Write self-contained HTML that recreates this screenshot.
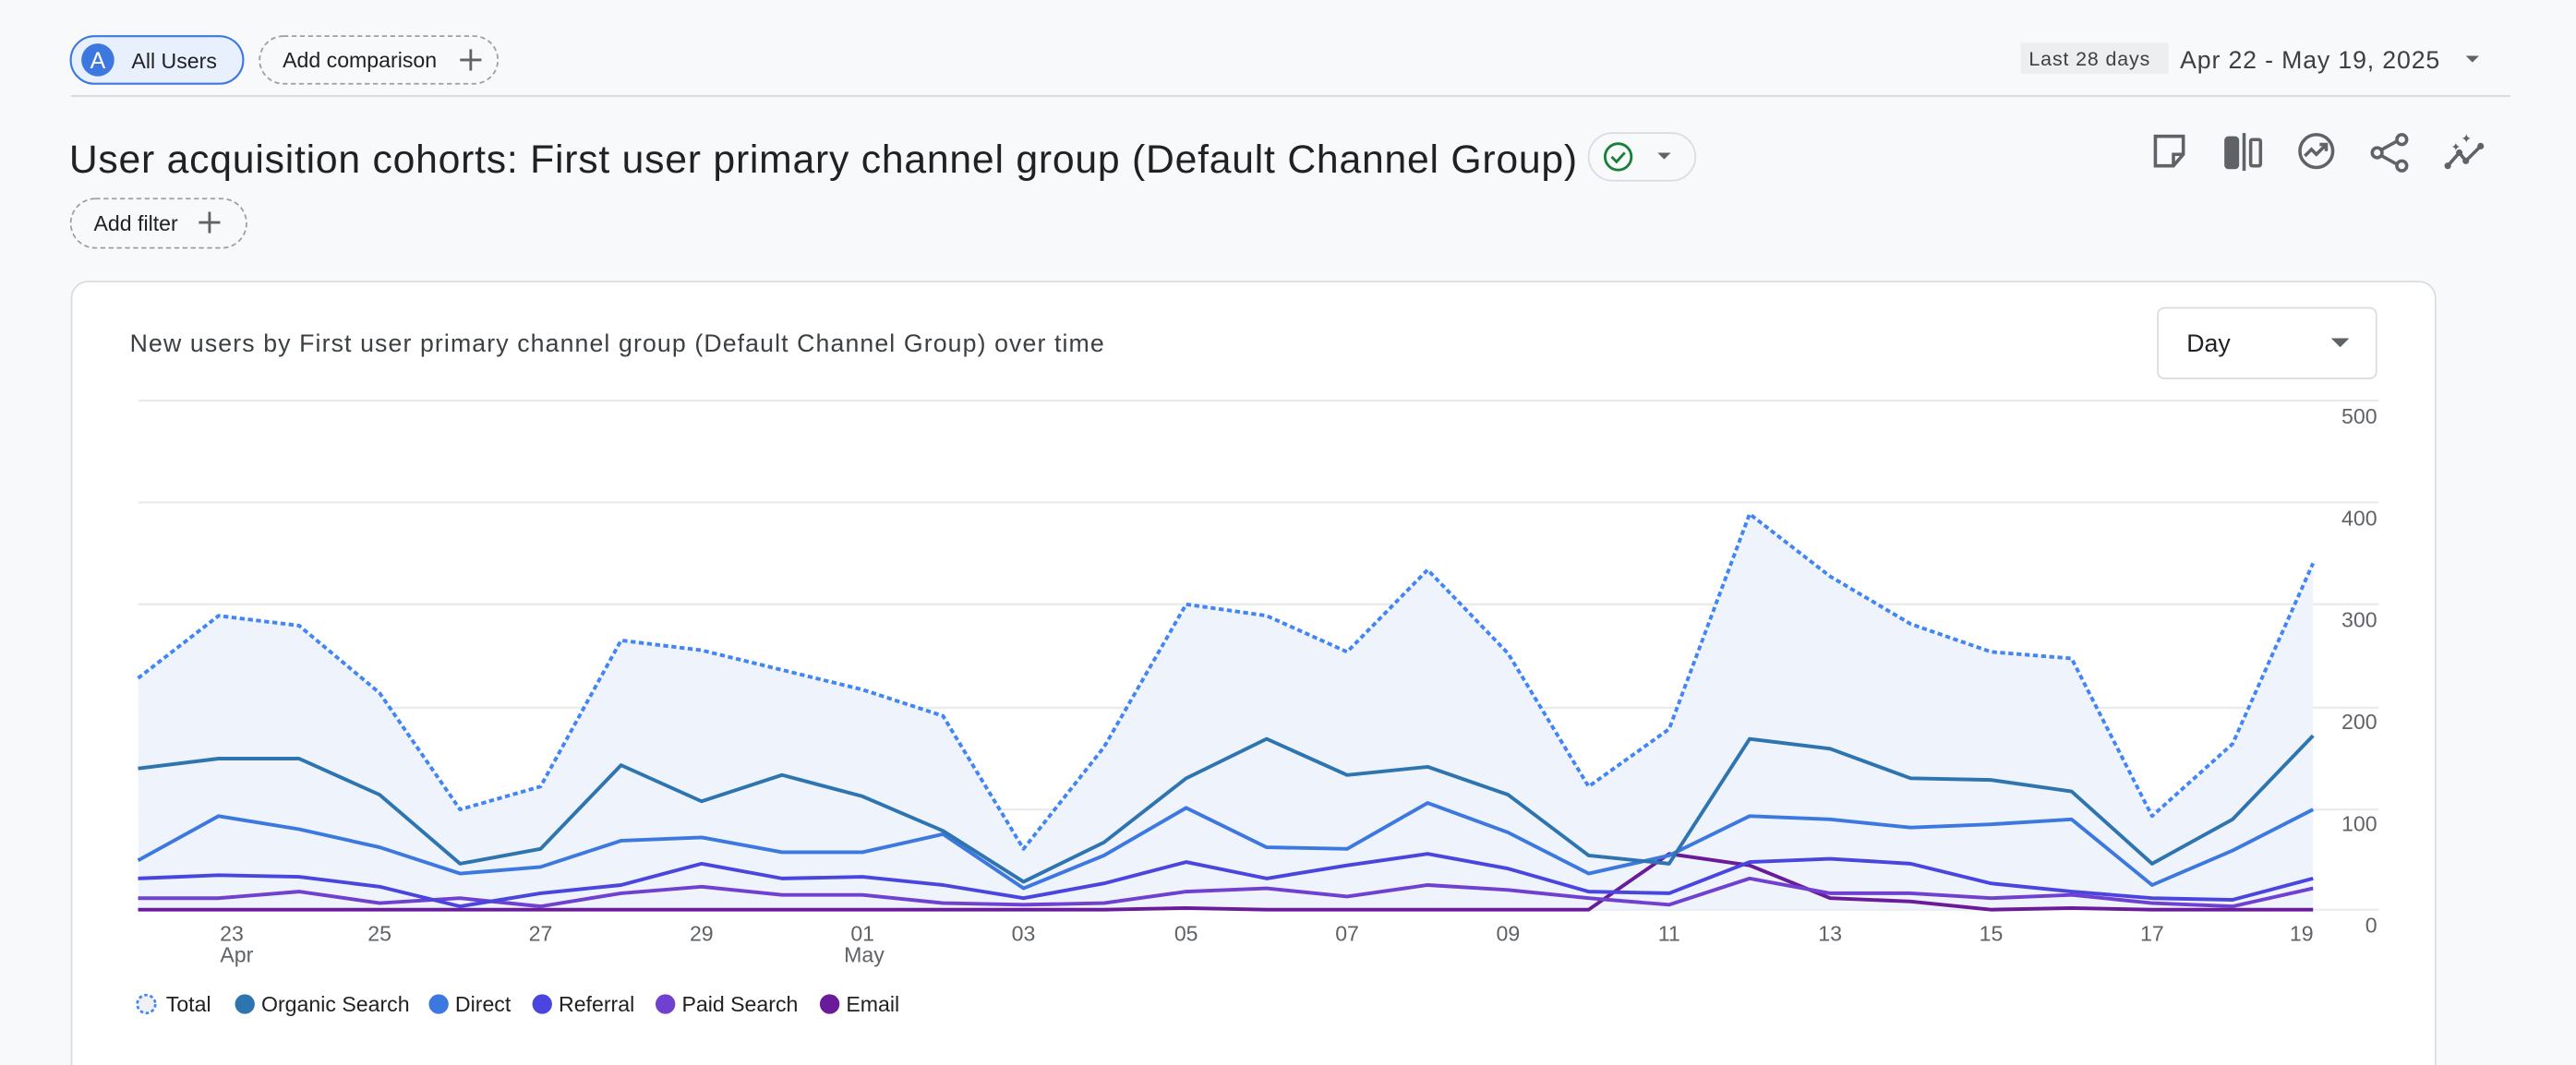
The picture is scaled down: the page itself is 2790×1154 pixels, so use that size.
<!DOCTYPE html>
<html><head><meta charset="utf-8"><style>
html,body{margin:0;padding:0;background:#f8f9fa;}
svg{display:block;font-family:"Liberation Sans",sans-serif;}
</style></head><body>
<svg width="2790" height="1154" viewBox="0 0 1568 648.6" xmlns="http://www.w3.org/2000/svg">
<rect x="0" y="0" width="1568" height="649" fill="#f8f9fa"/>
<!-- top chips -->
<rect x="43" y="22" width="105" height="29" rx="14.5" fill="#e8f0fe" stroke="#3c78e0" stroke-width="1.2"/>
<circle cx="59.5" cy="36.5" r="10" fill="#3c78e0"/>
<text x="59.5" y="41.5" font-size="14" fill="#fff" text-anchor="middle">A</text>
<text x="80" y="41.5" font-size="13" fill="#202124">All Users</text>
<rect x="158" y="22" width="145" height="29" rx="14.5" fill="none" stroke="#9aa0a6" stroke-width="1" stroke-dasharray="3,2"/>
<text x="172" y="41" font-size="13" fill="#202124">Add comparison</text>
<path d="M280 36.5h13M286.5 30v13" stroke="#5f6368" stroke-width="1.6"/>
<line x1="43" y1="58.5" x2="1528" y2="58.5" stroke="#dadce0" stroke-width="1.2"/>
<rect x="1230" y="26" width="90" height="19" fill="#eceef0"/>
<text x="1235" y="40" font-size="12" fill="#3c4043" letter-spacing="0.5">Last 28 days</text>
<text x="1327" y="41.5" font-size="15" fill="#3c4043" textLength="158">Apr 22 - May 19, 2025</text>
<path d="M1501 34l4 4 4-4z" fill="#5f6368"/>
<!-- title -->
<text x="42" y="105" font-size="24" fill="#202124" textLength="918">User acquisition cohorts: First user primary channel group (Default Channel Group)</text>
<rect x="967" y="81" width="65" height="29" rx="14.5" fill="#f8f9fa" stroke="#dadce0"/>
<circle cx="985" cy="95.5" r="8" fill="none" stroke="#188038" stroke-width="1.6"/>
<path d="M981 95.5l3 3 5-5.5" fill="none" stroke="#188038" stroke-width="1.6"/>
<path d="M1009 93l4 4 4-4z" fill="#5f6368"/>
<!-- icons -->
<g fill="none" stroke="#5f6368" stroke-width="2">
<path d="M1312 83h17v11l-6 7h-11z"/><path d="M1323 101v-7h6" />
<rect x="1355" y="84" width="7" height="18" rx="1.5" fill="#5f6368"/><line x1="1366" y1="81" x2="1366" y2="104"/><rect x="1370" y="85" width="6" height="16" rx="1"/>
<circle cx="1410" cy="92" r="10"/><path d="M1403 95l4-4 3 3 6-6M1412 88h4v4"/>
<circle cx="1447" cy="93" r="3"/><circle cx="1462" cy="85" r="3"/><circle cx="1462" cy="101" r="3"/><path d="M1450 91l9-5M1450 95l9 5"/>
<path d="M1490 101l7-8 4 5 9-9"/>
</g>
<circle cx="1490" cy="101" r="2" fill="#5f6368"/><circle cx="1497" cy="93" r="2" fill="#5f6368"/><circle cx="1501" cy="98" r="2" fill="#5f6368"/><circle cx="1510" cy="89" r="2" fill="#5f6368"/>
<text x="1492" y="92" font-size="7" fill="#5f6368">✦</text><text x="1498" y="87" font-size="8" fill="#5f6368">✦</text>
<!-- add filter -->
<rect x="43" y="121" width="107" height="30" rx="15" fill="none" stroke="#9aa0a6" stroke-dasharray="3,2"/>
<text x="57" y="140.5" font-size="13" fill="#202124">Add filter</text>
<path d="M121 135.5h13M127.5 129v13" stroke="#5f6368" stroke-width="1.6"/>
<!-- card -->
<rect x="43.5" y="171.5" width="1439" height="500" rx="10" fill="#fff" stroke="#dadce0"/>
<text x="79" y="214" font-size="15" fill="#3c4043" textLength="593">New users by First user primary channel group (Default Channel Group) over time</text>
<rect x="1313.5" y="187.5" width="133" height="43" rx="4" fill="#fff" stroke="#dadce0"/>
<text x="1331" y="214" font-size="15" fill="#202124">Day</text>
<path d="M1419 206l5.5 5.5 5.5-5.5z" fill="#5f6368"/>
<!-- grid -->
<g stroke="#e8eaed" stroke-width="1.2">
<line x1="84" y1="244" x2="1448" y2="244"/><line x1="84" y1="306" x2="1448" y2="306"/><line x1="84" y1="368" x2="1448" y2="368"/><line x1="84" y1="431" x2="1448" y2="431"/><line x1="84" y1="493" x2="1448" y2="493"/><line x1="84" y1="554" x2="1448" y2="554"/>
</g>
<g font-size="13" fill="#5f6368" text-anchor="end">
<text x="1447" y="258">500</text><text x="1447" y="320">400</text><text x="1447" y="382">300</text><text x="1447" y="444">200</text><text x="1447" y="506">100</text><text x="1447" y="568">0</text>
</g>
<!-- area -->
<polygon fill="#eef3fc" points="84,413 133,375 182,381 231,422 280,493 329,479 378,390 427,396 476,408 525,420 574,436 623,517 672,455 722,368 771,375 820,397 869,347 918,398 967,479 1016,444 1065,313 1114,351 1163,380 1212,397 1261,401 1310,497 1359,453 1408,343 1408,554 84,554"/>
<g fill="none" stroke-width="2.2" stroke-linejoin="round">
<polyline stroke="#6a1b9a" points="84,554 133,554 182,554 231,554 280,554 329,554 378,554 427,554 476,554 525,554 574,554 623,554 672,554 722,553 771,554 820,554 869,554 918,554 967,554 1016,520 1065,527 1114,547 1163,549 1212,554 1261,553 1310,554 1359,554 1408,554"/>
<polyline stroke="#7040d0" points="84,547 133,547 182,543 231,550 280,547 329,552 378,544 427,540 476,545 525,545 574,550 623,551 672,550 722,543 771,541 820,546 869,539 918,542 967,547 1016,551 1065,535 1114,544 1163,544 1212,547 1261,545 1310,550 1359,552 1408,541"/>
<polyline stroke="#4b45e0" points="84,535 133,533 182,534 231,540 280,552 329,544 378,539 427,526 476,535 525,534 574,539 623,547 672,538 722,525 771,535 820,527 869,520 918,529 967,543 1016,544 1065,525 1114,523 1163,526 1212,538 1261,543 1310,547 1359,548 1408,535"/>
<polyline stroke="#3c78e0" points="84,524 133,497 182,505 231,516 280,532 329,528 378,512 427,510 476,519 525,519 574,508 623,541 672,521 722,492 771,516 820,517 869,489 918,507 967,532 1016,521 1065,497 1114,499 1163,504 1212,502 1261,499 1310,539 1359,518 1408,493"/>
<polyline stroke="#2e75b0" points="84,468 133,462 182,462 231,484 280,526 329,517 378,466 427,488 476,472 525,485 574,506 623,537 672,513 722,474 771,450 820,472 869,467 918,484 967,521 1016,526 1065,450 1114,456 1163,474 1212,475 1261,482 1310,526 1359,499 1408,448"/>
<polyline stroke="#4285f4" stroke-dasharray="3,2" points="84,413 133,375 182,381 231,422 280,493 329,479 378,390 427,396 476,408 525,420 574,436 623,517 672,455 722,368 771,375 820,397 869,347 918,398 967,479 1016,444 1065,313 1114,351 1163,380 1212,397 1261,401 1310,497 1359,453 1408,343"/>
</g>
<!-- x labels -->
<g font-size="13" fill="#5f6368" text-anchor="middle">
<text x="141" y="573">23</text><text x="144" y="586">Apr</text>
<text x="231" y="573">25</text><text x="329" y="573">27</text><text x="427" y="573">29</text>
<text x="525" y="573">01</text><text x="526" y="586">May</text>
<text x="623" y="573">03</text><text x="722" y="573">05</text><text x="820" y="573">07</text><text x="918" y="573">09</text><text x="1016" y="573">11</text><text x="1114" y="573">13</text><text x="1212" y="573">15</text><text x="1310" y="573">17</text><text x="1401" y="573">19</text>
</g>
<!-- legend -->
<circle cx="89" cy="611.5" r="5.5" fill="#eef0f2" stroke="#4285f4" stroke-width="1.5" stroke-dasharray="2,1.5"/>
<circle cx="149" cy="611.5" r="6" fill="#2e75b0"/>
<circle cx="267" cy="611.5" r="6" fill="#3c78e0"/>
<circle cx="330" cy="611.5" r="6" fill="#4b45e0"/>
<circle cx="405" cy="611.5" r="6" fill="#7040d0"/>
<circle cx="505" cy="611.5" r="6" fill="#6a1b9a"/>
<g font-size="13" fill="#202124">
<text x="101" y="616">Total</text><text x="159" y="616">Organic Search</text><text x="277" y="616">Direct</text><text x="340" y="616">Referral</text><text x="415" y="616">Paid Search</text><text x="515" y="616">Email</text>
</g>
</svg>
</body></html>
